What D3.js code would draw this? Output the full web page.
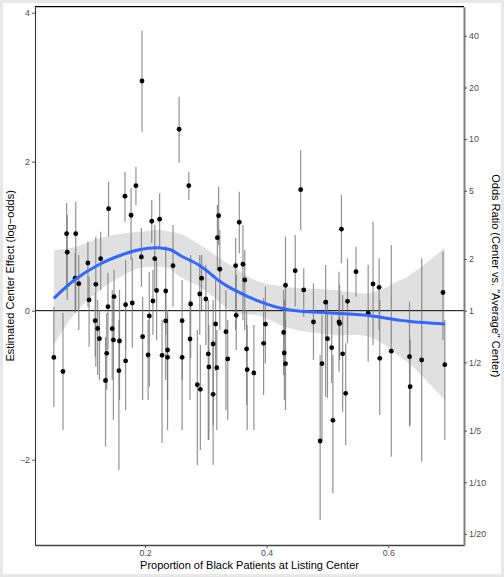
<!DOCTYPE html>
<html>
<head>
<meta charset="utf-8">
<script src="https://cdn.jsdelivr.net/npm/d3@7/dist/d3.min.js"></script>
<style>
  body { margin: 0; background: #fff; }
  svg { display: block; font-family: "Liberation Sans", Arial, sans-serif; }
</style>
</head>
<body>
<svg width="504" height="577"></svg>
<script>
// proportion of Black patients at each listing center
const centerX = [0.050,0.065,0.071,0.072,0.086,0.085,0.091,0.106,0.108,0.119,0.118,0.122,0.125,0.127,0.140,0.139,0.137,0.135,0.149,0.146,0.148,0.158,0.157,0.167,0.168,0.168,0.177,0.179,0.185,0.194,0.196,0.195,0.207,0.205,0.211,0.213,0.216,0.219,0.224,0.228,0.234,0.234,0.237,0.237,0.246,0.256,0.261,0.261,0.272,0.275,0.274,0.286,0.291,0.290,0.293,0.300,0.304,0.305,0.312,0.312,0.316,0.318,0.319,0.321,0.323,0.333,0.336,0.349,0.350,0.355,0.361,0.364,0.367,0.368,0.379,0.395,0.398,0.431,0.428,0.429,0.431,0.447,0.456,0.461,0.477,0.488,0.491,0.497,0.500,0.507,0.509,0.519,0.520,0.523,0.525,0.530,0.533,0.547,0.567,0.575,0.585,0.586,0.605,0.635,0.636,0.655,0.690,0.693];
// estimated center effect (log-odds) with interval ends
const centerEst = [-0.628,-0.816,1.034,0.784,1.034,0.435,0.362,0.640,0.144,0.354,-0.134,-0.239,-0.376,0.698,1.369,0.054,-0.572,-0.937,0.188,-0.242,-0.393,-0.407,-0.805,1.536,0.081,-0.675,1.281,0.103,1.678,0.721,-0.349,3.083,-0.071,-0.595,1.200,0.130,0.698,0.271,1.227,-0.599,0.264,-0.138,-0.528,-0.626,0.604,2.435,-0.134,-0.626,1.678,0.090,-0.380,-0.993,-1.055,0.224,0.435,0.157,-0.581,-0.756,-0.447,-1.122,-0.179,-0.765,0.980,1.275,0.556,-0.282,-0.648,0.604,-0.062,1.187,0.623,0.412,-0.514,-0.792,-0.836,-0.438,-0.181,0.341,-0.293,-0.568,-0.711,0.537,1.624,0.278,-0.152,-1.749,-0.711,0.113,-0.376,-0.497,-1.471,-0.152,-0.172,1.094,-0.579,-1.109,0.126,0.523,-0.034,0.358,0.314,-0.639,-0.544,-0.617,-1.020,-0.662,0.244,-0.725];
const ciHigh = [0.054,-0.031,1.446,1.285,1.463,0.774,0.748,0.926,0.456,0.993,0.238,0.144,0.009,1.060,1.732,0.506,-0.031,-0.353,0.546,0.278,0.144,0.278,-0.125,1.866,0.681,0.077,1.647,0.707,1.933,1.110,0.188,3.758,0.523,-0.125,1.486,0.546,1.150,0.681,1.576,-0.125,0.868,0.278,0.009,-0.058,1.150,2.872,0.412,-0.125,1.866,0.748,0.144,-0.259,-0.461,0.748,0.748,0.613,0.144,-0.192,0.144,-0.393,0.412,-0.259,1.419,1.664,1.083,0.278,-0.125,0.976,0.479,1.597,1.150,0.815,0.009,-0.192,-0.192,0.170,0.322,0.993,0.278,0.144,-0.125,1.016,2.157,0.569,0.368,-0.595,-0.058,0.613,0.144,-0.058,-0.595,0.523,0.345,1.553,0.211,-0.438,0.703,0.859,0.613,1.195,0.703,0.144,0.882,0.121,-0.393,0.703,0.792,-0.125];
const ciLow = [-1.293,-1.601,0.278,0.144,0.009,-0.031,-0.259,0.054,-0.483,-0.752,-0.617,-0.863,-0.930,0.278,0.993,-0.528,-1.064,-1.826,-0.353,-0.930,-1.467,-1.199,-2.138,1.195,-0.528,-1.333,0.681,-0.501,1.419,0.322,-1.199,2.403,-1.020,-1.199,0.909,-0.326,0.278,-0.393,0.859,-1.776,-0.326,-0.930,-1.601,-1.199,0.054,1.987,-0.930,-1.601,1.486,-0.635,-1.199,-2.071,-1.869,-0.326,0.009,-0.460,-1.736,-1.736,-1.534,-2.071,-0.809,-1.601,0.546,0.882,-0.259,-1.333,-1.467,-0.259,-0.528,0.770,-0.125,-0.259,-1.266,-1.601,-1.601,-1.132,-0.706,-0.259,-0.863,-1.199,-1.333,0.054,1.083,-0.081,-0.662,-2.809,-1.736,-1.154,-1.172,-0.970,-2.451,-0.819,-0.662,0.636,-1.356,-1.803,-0.438,0.188,-0.685,-0.460,-0.259,-1.400,-1.960,-1.557,-1.534,-2.027,-0.393,-1.736];

// loess fit and its confidence band
const smoothX = [0.050,0.085,0.126,0.159,0.192,0.217,0.228,0.241,0.258,0.291,0.324,0.345,0.389,0.431,0.463,0.513,0.570,0.620,0.636,0.693];
const smoothFit = [0.166,0.419,0.627,0.741,0.821,0.846,0.838,0.821,0.741,0.600,0.389,0.285,0.121,0.019,-0.011,-0.035,-0.067,-0.130,-0.145,-0.179];
const smoothHigh = [0.815,0.855,0.976,1.030,1.060,1.083,1.080,1.060,1.030,0.882,0.694,0.587,0.385,0.322,0.300,0.278,0.238,0.412,0.480,0.842];
const smoothLow = [-0.460,-0.031,0.278,0.452,0.573,0.590,0.585,0.560,0.452,0.318,0.103,-0.017,-0.071,-0.219,-0.280,-0.326,-0.353,-0.621,-0.720,-1.199];

const xTicks = [0.2, 0.4, 0.6];
const logOddsTicks = [-2, 0, 2, 4];
const oddsTickValues = [1/20, 1/10, 1/5, 1/2, 1, 2, 5, 10, 20, 40];
const oddsTickLabels = ["1/20", "1/10", "1/5", "1/2", "1", "2", "5", "10", "20", "40"];

const svg = d3.select("svg");
const width = +svg.attr("width");
const height = +svg.attr("height");
const margin = { top: 6.7, right: 40, bottom: 32, left: 35 };
const innerRight = width - margin.right;
const innerBottom = height - margin.bottom;

const xScale = d3.scaleLinear().domain([0.019, 0.7246]).range([margin.left, innerRight]);
const yScale = d3.scaleLinear().domain([-3.145, 4.08]).range([innerBottom, margin.top]);

// light frame round the whole picture
svg.append("rect")
  .attr("x", 1.5).attr("y", 1.5)
  .attr("width", width - 3).attr("height", height - 3)
  .attr("fill", "none").attr("stroke", "#e8e8e8").attr("stroke-width", 3);

const points = centerX.map((x, i) => ({ x, est: centerEst[i], lo: ciLow[i], hi: ciHigh[i] }));
const smooth = smoothX.map((x, i) => ({ x, fit: smoothFit[i], lo: smoothLow[i], hi: smoothHigh[i] }));

svg.append("path")
  .datum(smooth)
  .attr("fill", "#999999")
  .attr("fill-opacity", 0.3)
  .attr("d", d3.area()
    .x((d) => xScale(d.x))
    .y0((d) => yScale(d.lo))
    .y1((d) => yScale(d.hi))
    .curve(d3.curveCatmullRom));

svg.append("line")
  .attr("x1", margin.left).attr("x2", innerRight)
  .attr("y1", yScale(0)).attr("y2", yScale(0))
  .attr("stroke", "#000").attr("stroke-width", 1);

svg.append("g")
  .selectAll("line")
  .data(points)
  .enter()
  .append("line")
  .attr("x1", (d) => xScale(d.x))
  .attr("x2", (d) => xScale(d.x))
  .attr("y1", (d) => yScale(d.lo))
  .attr("y2", (d) => yScale(d.hi))
  .attr("stroke", "#777")
  .attr("stroke-opacity", 0.8)
  .attr("stroke-width", 1.2);

svg.append("g")
  .selectAll("circle")
  .data(points)
  .enter()
  .append("circle")
  .attr("cx", (d) => xScale(d.x))
  .attr("cy", (d) => yScale(d.est))
  .attr("r", 2.4)
  .attr("fill", "#000");

svg.append("path")
  .datum(smooth)
  .attr("fill", "none")
  .attr("stroke", "#3366FF")
  .attr("stroke-width", 3)
  .attr("d", d3.line()
    .x((d) => xScale(d.x))
    .y((d) => yScale(d.fit))
    .curve(d3.curveCatmullRom));

// axes
function styleAxis(g, lineColor, lineWidth) {
  g.select(".domain").attr("stroke", lineColor).attr("stroke-width", lineWidth);
  g.selectAll(".tick line").attr("stroke", "#555");
  g.selectAll(".tick text").attr("fill", "#4d4d4d").attr("font-size", "8.8px");
}

svg.append("g")
  .attr("transform", `translate(${margin.left},0)`)
  .call(d3.axisLeft(yScale).tickValues(logOddsTicks).tickSize(3).tickSizeOuter(0).tickPadding(2))
  .call((g) => styleAxis(g, "#333", 1.1));

svg.append("g")
  .attr("transform", `translate(0,${innerBottom})`)
  .call(d3.axisBottom(xScale).tickValues(xTicks).tickFormat(d3.format(".1f")).tickSize(3).tickSizeOuter(0).tickPadding(2))
  .call((g) => styleAxis(g, "#444", 1.3));

svg.append("g")
  .attr("transform", `translate(${innerRight},0)`)
  .call(d3.axisRight(yScale)
    .tickValues(oddsTickValues.map(Math.log))
    .tickFormat((d, i) => oddsTickLabels[i])
    .tickSize(3).tickSizeOuter(0).tickPadding(2))
  .call((g) => styleAxis(g, "#808080", 2));

svg.append("line")
  .attr("x1", margin.left).attr("x2", innerRight)
  .attr("y1", margin.top).attr("y2", margin.top)
  .attr("stroke", "#000").attr("stroke-width", 1.2);

// axis titles
const midY = (margin.top + innerBottom) / 2;
svg.append("text")
  .attr("transform", `translate(14,${midY}) rotate(-90)`)
  .attr("text-anchor", "middle")
  .attr("font-size", "11px")
  .text("Estimated Center Effect (log\u2212odds)");

svg.append("text")
  .attr("transform", `translate(492,${midY}) rotate(90)`)
  .attr("text-anchor", "middle")
  .attr("font-size", "11px")
  .text("Odds Ratio (Center vs. \"Average\" Center)");

svg.append("text")
  .attr("x", (margin.left + innerRight) / 2)
  .attr("y", 569)
  .attr("text-anchor", "middle")
  .attr("font-size", "11px")
  .text("Proportion of Black Patients at Listing Center");
</script>
</body>
</html>
